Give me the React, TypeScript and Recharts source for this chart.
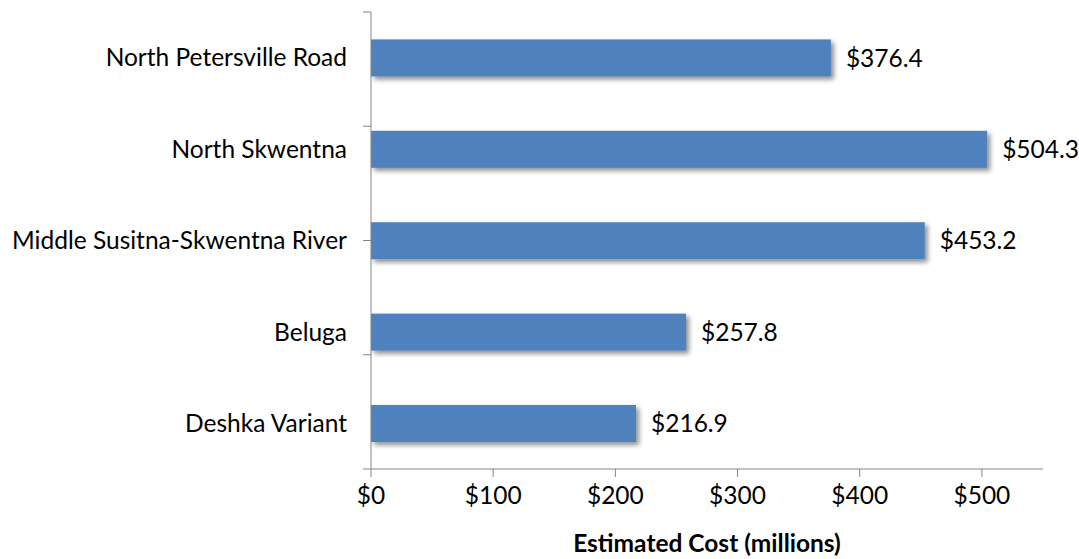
import { BarChart, Bar, XAxis, YAxis, LabelList } from "recharts";

const routes = [
  "North Petersville Road",
  "North Skwentna",
  "Middle Susitna-Skwentna River",
  "Beluga",
  "Deshka Variant",
];

const costs = [376.4, 504.3, 453.2, 257.8, 216.9];

const costTicks = [0, 100, 200, 300, 400, 500];

const boundaryTicks = [0, 1, 2, 3, 4, 5];

const data = routes.map((name, i) => ({ name, cost: costs[i] }));

const FONT = "Lato, 'Open Sans', sans-serif";
const AXIS = "#868686";
const SIZE = 24.5;

function ShadowBar(props: any) {
  const { x, y, width, height, index } = props;
  return (
    <g>
      {index === 0 && (
        <defs>
          <filter id="barShadow" x="-10%" y="-30%" width="130%" height="180%">
            <feGaussianBlur in="SourceAlpha" stdDeviation="2.5" />
            <feOffset dx="3" dy="3" result="blur" />
            <feComponentTransfer>
              <feFuncA type="linear" slope="0.45" />
            </feComponentTransfer>
            <feMerge>
              <feMergeNode />
              <feMergeNode in="SourceGraphic" />
            </feMerge>
          </filter>
        </defs>
      )}
      <rect
        x={x}
        y={y}
        width={width}
        height={height}
        fill="#4F81BD"
        filter="url(#barShadow)"
      />
    </g>
  );
}

export default function App() {
  return (
    <div style={{ position: "absolute", left: 0, top: 0 }}>
      <BarChart
        width={1079}
        height={559}
        data={data}
        layout="vertical"
        margin={{ top: 12, right: 36, bottom: 0, left: 0 }}
        barCategoryGap="30%"
        style={{ fontFamily: FONT }}
      >
        <XAxis
          type="number"
          domain={[0, 550]}
          ticks={costTicks}
          tickFormatter={(v: number) => `$${v}`}
          height={90}
          stroke={AXIS}
          tickSize={8}
          tickMargin={10}
          tick={{ fill: "#000", fontSize: SIZE }}
          label={{
            value: "Estimated Cost (millions)",
            position: "insideBottom",
            offset: 7,
            fill: "#000",
            fontSize: 24.5,
            fontWeight: 700,
          }}
        />
        <YAxis
          yAxisId="bounds"
          type="number"
          domain={[0, 5]}
          ticks={boundaryTicks}
          width={1}
          stroke={AXIS}
          tickSize={8}
          tick={() => <g />}
          allowDataOverflow
        />
        <YAxis
          yAxisId="routes"
          type="category"
          dataKey="name"
          width={370}
          axisLine={false}
          tickLine={false}
          tickMargin={17}
          tick={{ fill: "#000", fontSize: SIZE }}
        />
        <Bar
          dataKey="cost"
          yAxisId="routes"
          shape={ShadowBar}
          isAnimationActive={false}
        >
          <LabelList
            dataKey="cost"
            position="right"
            offset={15}
            formatter={(v: any) => `$${Number(v).toFixed(1)}`}
            style={{ fill: "#000", fontSize: SIZE }}
          />
        </Bar>
      </BarChart>
    </div>
  );
}
